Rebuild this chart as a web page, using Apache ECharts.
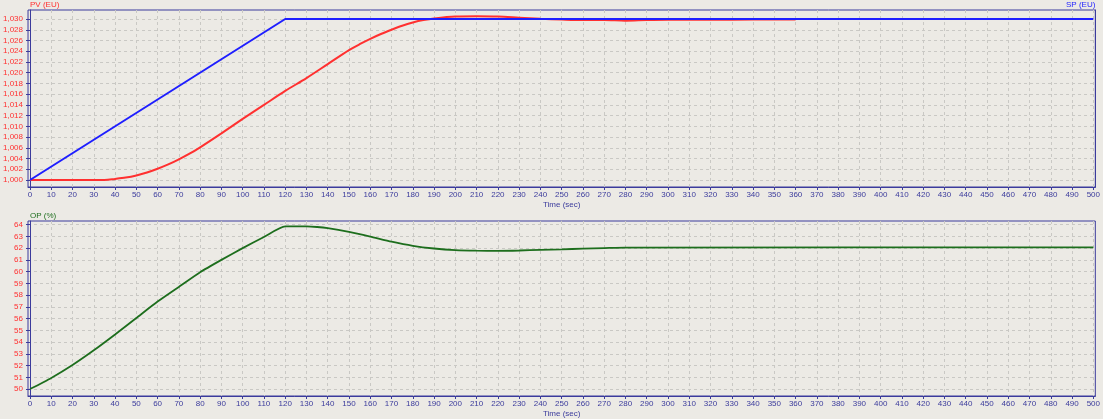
<!DOCTYPE html>
<html><head><meta charset="utf-8">
<script src="https://cdn.jsdelivr.net/npm/echarts@6/dist/echarts.min.js"></script>
<style>html,body{margin:0;padding:0;background:#ECEAE5;} #c{width:1103px;height:419px;}</style>
</head><body><div id="c"></div>
<script>
// ---- data ----
const pvTime  = [0,10,20,30,35,40,45,50,55,60,65,70,75,80,90,100,110,120,130,140,150,155,160,165,170,175,180,185,190,200,210,220,230,240,250,260,270,280,290,300,320,340,360];
const pvValue = [1000,1000,1000,1000,1000,1000.2,1000.45,1000.85,1001.4,1002.1,1002.9,1003.85,1004.9,1006.1,1008.7,1011.4,1014.0,1016.6,1019.0,1021.6,1024.2,1025.3,1026.3,1027.2,1028.0,1028.75,1029.35,1029.8,1030.1,1030.45,1030.5,1030.45,1030.25,1030.05,1029.9,1029.8,1029.8,1029.7,1029.8,1029.85,1029.85,1029.9,1029.9];
const spTime  = [0,120,500];
const spValue = [1000,1030,1030];
const opTime  = [0,10,20,30,40,50,60,70,80,90,100,110,120,130,135,140,150,160,170,180,190,200,210,220,230,240,250,260,270,280,500];
const opValue = [50,50.95,52.05,53.3,54.65,56.05,57.45,58.7,59.95,61.0,62.0,62.95,63.85,63.85,63.8,63.7,63.38,62.98,62.55,62.2,61.97,61.83,61.78,61.77,61.8,61.86,61.9,61.95,62.0,62.05,62.06];
const xTitle = 'Time (sec)';
const pvTitle = 'PV (EU)';
const spTitle = 'SP (EU)';
const opTitle = 'OP (%)';

const pair = (t, v) => t.map((x, i) => [x, v[i]]);

const FONT = "'Liberation Sans', Arial, sans-serif";
const FS = 8;
const NAVY = '#3b3b9c';
const GRIDC = '#c9c8c4';
const RED = '#ff3030';
const BLUE = '#1e1eff';
const GREEN = '#1d6e1d';

function xFmt(v){ const r = Math.round(v); return (Math.abs(v - r) < 1e-6 && r % 10 === 0) ? String(r) : ''; }
function pvFmt(v){ const r = Math.round(v); return (Math.abs(v - r) < 1e-6 && r % 2 === 0) ? r.toLocaleString('en-US') : ''; }
function opFmt(v){ const r = Math.round(v); return (Math.abs(v - r) < 1e-6) ? String(r) : ''; }

const split = { show: true, showMinLine: false, showMaxLine: false, lineStyle: { color: GRIDC, type: [3, 3], width: 1 } };

function xAxis(gi){
  return {
    type: 'value', gridIndex: gi, min: -0.94, max: 500.94, minInterval: 10, maxInterval: 10, splitNumber: 50,
    name: xTitle, nameLocation: 'middle', nameGap: 14,
    nameTextStyle: { color: NAVY, fontSize: FS, fontFamily: FONT },
    axisLine: { lineStyle: { color: NAVY, width: 1 } },
    axisTick: { show: true, length: 3, lineStyle: { color: NAVY } },
    axisLabel: { color: NAVY, fontSize: FS, fontFamily: FONT, margin: 4, formatter: xFmt, showMinLabel: false, showMaxLabel: false },
    splitLine: split
  };
}

const option = {
  backgroundColor: '#ECEAE5',
  animation: false,
  grid: [
    { left: 28, top: 10, width: 1068, height: 177, show: true, borderColor: NAVY, borderWidth: 1, backgroundColor: 'transparent', containLabel: false },
    { left: 28, top: 221, width: 1068, height: 176, show: true, borderColor: NAVY, borderWidth: 1, backgroundColor: 'transparent', containLabel: false }
  ],
  xAxis: [xAxis(0), xAxis(1)],
  yAxis: [
    {
      type: 'value', gridIndex: 0, min: 998.70, max: 1031.68, minInterval: 2, maxInterval: 2, splitNumber: 16,
      name: pvTitle, nameLocation: 'end', nameGap: 5,
      nameTextStyle: { color: RED, fontSize: FS, fontFamily: FONT, align: 'left', verticalAlign: 'middle' },
      axisLine: { show: true, lineStyle: { color: NAVY } },
      axisTick: { show: true, length: 4, lineStyle: { color: NAVY } },
      axisLabel: { color: RED, fontSize: FS, fontFamily: FONT, margin: 5, formatter: pvFmt, showMinLabel: false, showMaxLabel: false },
      splitLine: split
    },
    {
      type: 'value', gridIndex: 0, position: 'right', min: 998.70, max: 1031.68, minInterval: 2, maxInterval: 2, splitNumber: 16,
      name: spTitle, nameLocation: 'end', nameGap: 5,
      nameTextStyle: { color: BLUE, fontSize: FS, fontFamily: FONT, align: 'right', verticalAlign: 'middle' },
      axisLine: { show: true, lineStyle: { color: NAVY } },
      axisTick: { show: false }, axisLabel: { show: false }, splitLine: { show: false }
    },
    {
      type: 'value', gridIndex: 1, min: 49.41, max: 64.31, minInterval: 1, maxInterval: 1, splitNumber: 15,
      name: opTitle, nameLocation: 'end', nameGap: 5,
      nameTextStyle: { color: GREEN, fontSize: FS, fontFamily: FONT, align: 'left', verticalAlign: 'middle' },
      axisLine: { show: true, lineStyle: { color: NAVY } },
      axisTick: { show: true, length: 4, lineStyle: { color: NAVY } },
      axisLabel: { color: RED, fontSize: FS, fontFamily: FONT, margin: 5, formatter: opFmt, showMinLabel: false, showMaxLabel: false },
      splitLine: split
    }
  ],
  series: [
    { name: 'PV', type: 'line', xAxisIndex: 0, yAxisIndex: 0, data: pair(pvTime, pvValue), showSymbol: false, smooth: 0.3, lineStyle: { color: RED, width: 2 }, z: 3 },
    { name: 'SP', type: 'line', xAxisIndex: 0, yAxisIndex: 1, data: pair(spTime, spValue), showSymbol: false, lineStyle: { color: BLUE, width: 2 }, z: 4 },
    { name: 'OP', type: 'line', xAxisIndex: 1, yAxisIndex: 2, data: pair(opTime, opValue), showSymbol: false, smooth: 0.2, lineStyle: { color: GREEN, width: 1.8 }, z: 3 }
  ]
};
echarts.init(document.getElementById('c'), null, { renderer: 'canvas' }).setOption(option);
</script>
</body></html>
